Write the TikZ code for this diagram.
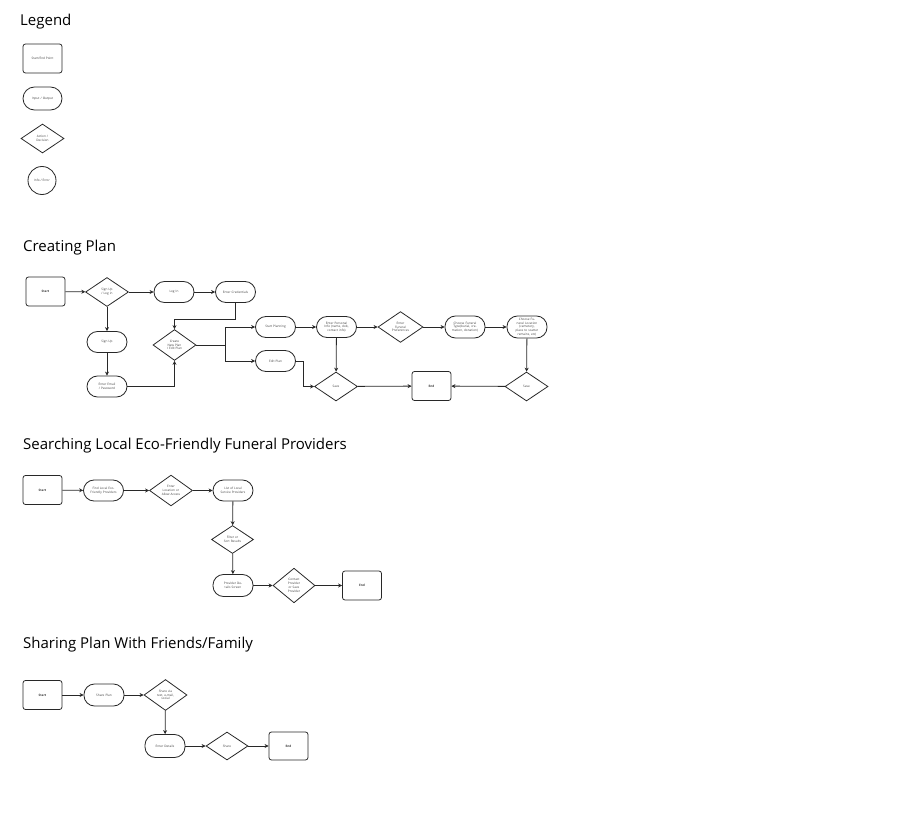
\documentclass[tikz,border=0pt]{standalone}
\usepackage{fontspec}
\setmainfont{Open Sans}
\usetikzlibrary{arrows.meta,shapes.geometric}
\definecolor{inkline}{RGB}{40,40,40}
\definecolor{inktext}{RGB}{60,60,60}

\begin{document}
\begin{tikzpicture}[x=1pt,y=-1pt,
  base/.style={draw=inkline, line width=0.8pt, inner sep=0.5pt, align=center, text=inktext,
    font=\fontsize{3.1}{3.8}\selectfont},
  term/.style={base, rectangle, rounded corners=2.5pt, minimum width=39pt, minimum height=29pt},
  io/.style={base, rectangle, rounded corners=10.5pt, minimum width=40pt, minimum height=21pt, text width=27pt},
  decide/.style={base, diamond, minimum width=43pt, minimum height=29pt, text width=19pt},
  info/.style={base, circle, minimum size=28pt},
  title/.style={font=\fontsize{15}{18}\selectfont, anchor=west, inner sep=0pt},
  arr/.style={-{Stealth[length=4pt,width=4pt]}, line width=0.8pt, inkline},
]
\useasboundingbox (0,0) rectangle (922,832);

% legend
\node[title] (tlegend) at (20,21.5) {Legend};
\node[term] (lterm) at (42.5,58.5) {Start/End Point};
\node[io, minimum width=39pt, minimum height=23pt, rounded corners=11.5pt] (lio) at (42.5,98.5) {Input / Output};
\node[decide] (ldec) at (42.5,138.5) {Action /\\ Decision};
\node[info] (linfo) at (42,180.5) {Info / Error};

% creating plan
\node[title] (tcreate) at (23,247.5) {Creating Plan};
\node[term] (cstart) at (45.5,291.5) {\bfseries Start};
\node[decide] (signq) at (107,292) {Sign Up / Log in};
\node[io] (login) at (174,292) {Log In};
\node[io] (cred) at (235.5,292) {Enter Credentials};
\node[io] (signup) at (107,342) {Sign Up};
\node[io] (email) at (107,386.5) {Enter Email / Password};
\node[decide] (create) at (174.5,345) {Create New Plan / Edit Plan};
\node[io] (plan) at (275.5,327) {Start Planning};
\node[io] (editp) at (275.5,361) {Edit Plan};
\node[io] (pinfo) at (336.5,327) {Enter Personal Info (name, dob, contact info)};
\node[decide, minimum width=45pt, minimum height=28pt] (prefq) at (400.5,327) {Enter Funeral Preferences};
\node[io, minimum height=22pt] (ftype) at (465,327) {Choose Funeral Type(burial, cremation, donation)};
\node[io, minimum height=22pt] (floc) at (527,327) {Choose Funeral Location (cemetery, place to scatter remains, etc)};
\node[decide] (savel) at (336,386.5) {Save};
\node[term] (cend) at (431.5,386) {\bfseries End};
\node[decide] (saver) at (526.5,386.5) {Save};

\draw[arr] (cstart) -- (signq);
\draw[arr] (signq) -- (login);
\draw[arr] (login) -- (cred);
\draw[arr] (cred.south) -- ++(0,16) -| (create.north);
\draw[arr] (signq) -- (signup);
\draw[arr] (signup) -- (email);
\draw[arr] (email.east) -| (create.south);
\draw[arr] (create.east) -- ++(29,0) |- (plan.west);
\draw[arr] (create.east) -- ++(29,0) |- (editp.west);
\draw[arr] (plan) -- (pinfo);
\draw[arr] (pinfo) -- (prefq);
\draw[arr] (prefq) -- (ftype);
\draw[arr] (ftype) -- (floc);
\draw[arr] (floc) -- (saver);
\draw[arr] (saver) -- (cend);
\draw[arr] (pinfo) -- (savel);
\draw[arr] (savel) -- (cend);
\draw[arr] (editp.east) -- ++(7,0) |- (savel.west);

% searching providers
\node[title] (tsearch) at (23,445.5) {Searching Local Eco-Friendly Funeral Providers};
\node[term] (sstart) at (42.5,490) {\bfseries Start};
\node[io] (find) at (103.5,490.5) {Find Local Eco-Friendly Providers};
\node[decide] (locq) at (171,490.5) {Enter Location or Allow Access};
\node[io] (list) at (233,490.5) {List of Local Service Providers};
\node[decide, minimum width=42pt, minimum height=28pt] (filt) at (232.5,539.5) {Filter or Sort Results};
\node[io, minimum height=22pt] (detail) at (233,585.5) {Provider Details Screen};
\node[decide, minimum width=42pt] (contact) at (294,585.5) {Contact Provider or Save Provider};
\node[term] (send) at (362,585.5) {\bfseries End};

\draw[arr] (sstart) -- (find);
\draw[arr] (find) -- (locq);
\draw[arr] (locq) -- (list);
\draw[arr] (list) -- (filt);
\draw[arr] (filt) -- (detail);
\draw[arr] (detail) -- (contact);
\draw[arr] (contact) -- (send);

% sharing plan
\node[title] (tshare) at (23,644.5) {Sharing Plan With Friends/Family};
\node[term] (hstart) at (42.5,695) {\bfseries Start};
\node[io, minimum height=22pt] (share) at (104,695) {Share Plan};
\node[decide] (via) at (165.5,695) {Share via text, e-mail, social};
\node[io, minimum height=23pt] (details) at (165,746) {Enter Details};
\node[decide, minimum width=42pt, minimum height=28pt] (sharq) at (227,746) {Share};
\node[term, minimum height=28pt] (hend) at (288.5,746) {\bfseries End};

\draw[arr] (hstart) -- (share);
\draw[arr] (share) -- (via);
\draw[arr] (via) -- (details);
\draw[arr] (details) -- (sharq);
\draw[arr] (sharq) -- (hend);
\end{tikzpicture}
\end{document}
